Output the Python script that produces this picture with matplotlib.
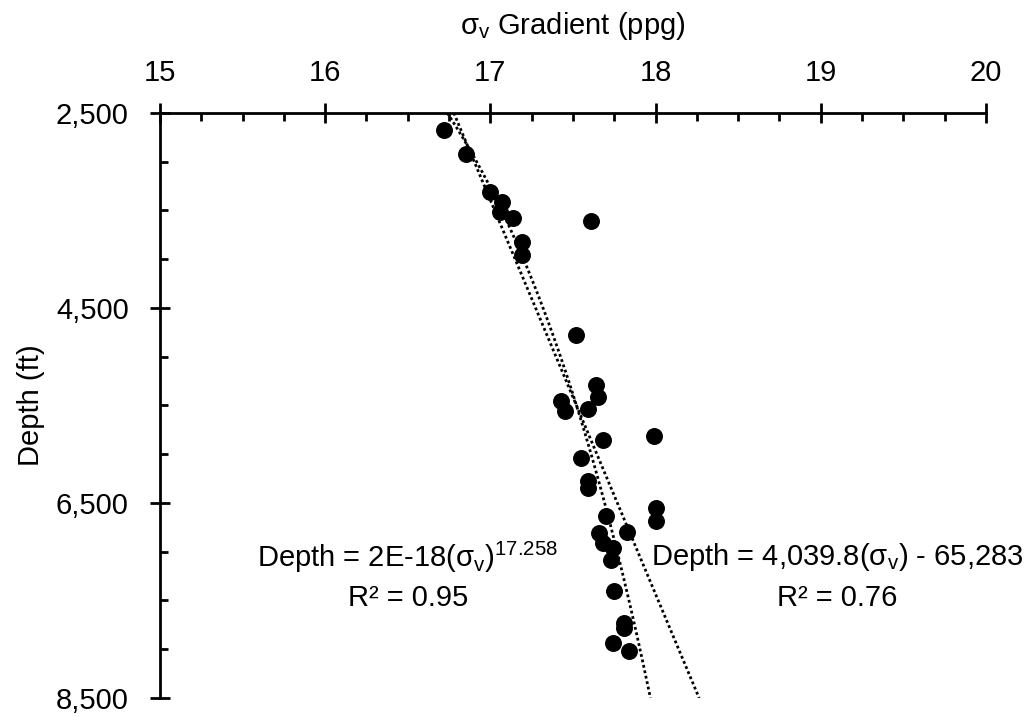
import matplotlib.pyplot as plt
import numpy as np
from matplotlib.ticker import FixedLocator, MultipleLocator

plt.rcParams['font.family'] = ['Liberation Sans', 'DejaVu Sans']

# data: overburden gradient (ppg) vs depth (ft)
gradient = [16.72, 16.85, 17.00, 17.07, 17.06, 17.14, 17.61, 17.19, 17.19,
            17.52, 17.64, 17.65, 17.43, 17.45, 17.59, 17.68, 17.99, 17.55,
            17.59, 17.59, 18.00, 18.00, 17.70, 17.66, 17.83, 17.68, 17.74,
            17.73, 17.75, 17.81, 17.81, 17.74, 17.84]
depth = [2672, 2922, 3306, 3409, 3512, 3581, 3608, 3828, 3958,
         4782, 5289, 5416, 5451, 5553, 5536, 5852, 5811, 6043,
         6274, 6342, 6548, 6685, 6634, 6805, 6795, 6908, 6959,
         7080, 7406, 7731, 7783, 7931, 8023]

# trendlines as printed on the chart
lin_slope, lin_icpt = 4039.8, -65283
pow_coef, pow_exp = 1.9e-18, 17.258

fs = 21

fig = plt.figure(figsize=(10.31, 7.17), dpi=100)
ax = fig.add_axes([0.1552, 0.0265, 0.801, 0.816])

ax.scatter(gradient, depth, s=125, color='black', zorder=3)

d = np.linspace(2500, 8500, 200)
ax.plot(d / lin_slope - lin_icpt / lin_slope, d, color='black', lw=2,
        linestyle=(0, (1, 1)))
ax.plot((d / pow_coef) ** (1 / pow_exp), d, color='black', lw=2,
        linestyle=(0, (1, 1)))

ax.set_xlim(15, 20)
ax.set_ylim(8500, 2500)
ax.xaxis.tick_top()
ax.xaxis.set_label_position('top')
ax.set_xticks([15, 16, 17, 18, 19, 20])
ax.xaxis.set_minor_locator(MultipleLocator(0.25))
ax.yaxis.set_major_locator(FixedLocator([2500, 4500, 6500, 8500]))
ax.yaxis.set_minor_locator(MultipleLocator(500))
ax.set_yticklabels(['2,500', '4,500', '6,500', '8,500'])

for s in ['right', 'bottom']:
    ax.spines[s].set_visible(False)
for s in ['top', 'left']:
    ax.spines[s].set_linewidth(2)

ax.tick_params(which='major', direction='inout', length=15, width=2,
               labelsize=fs)
ax.tick_params(axis='x', which='major', pad=11.5)
ax.tick_params(axis='y', which='major', pad=15)
ax.tick_params(which='minor', direction='in', length=6, width=2)

ax.set_xlabel(r'$\mathregular{\sigma_v}$ Gradient (ppg)', fontsize=fs, labelpad=18)
ax.set_ylabel('Depth (ft)', fontsize=fs, labelpad=8)

ax.text(16.50, 7054, r'Depth = 2E-18($\mathregular{\sigma_v}$)$\mathregular{^{17.258}}$',
        ha='center', va='center', fontsize=fs)
ax.text(16.50, 7474, 'R² = 0.95', ha='center', va='center', fontsize=fs)
ax.text(19.1, 7054, r'Depth = 4,039.8($\mathregular{\sigma_v}$) - 65,283',
        ha='center', va='center', fontsize=fs)
ax.text(19.1, 7474, 'R² = 0.76', ha='center', va='center', fontsize=fs)

fig.savefig('out.png', dpi=100)
